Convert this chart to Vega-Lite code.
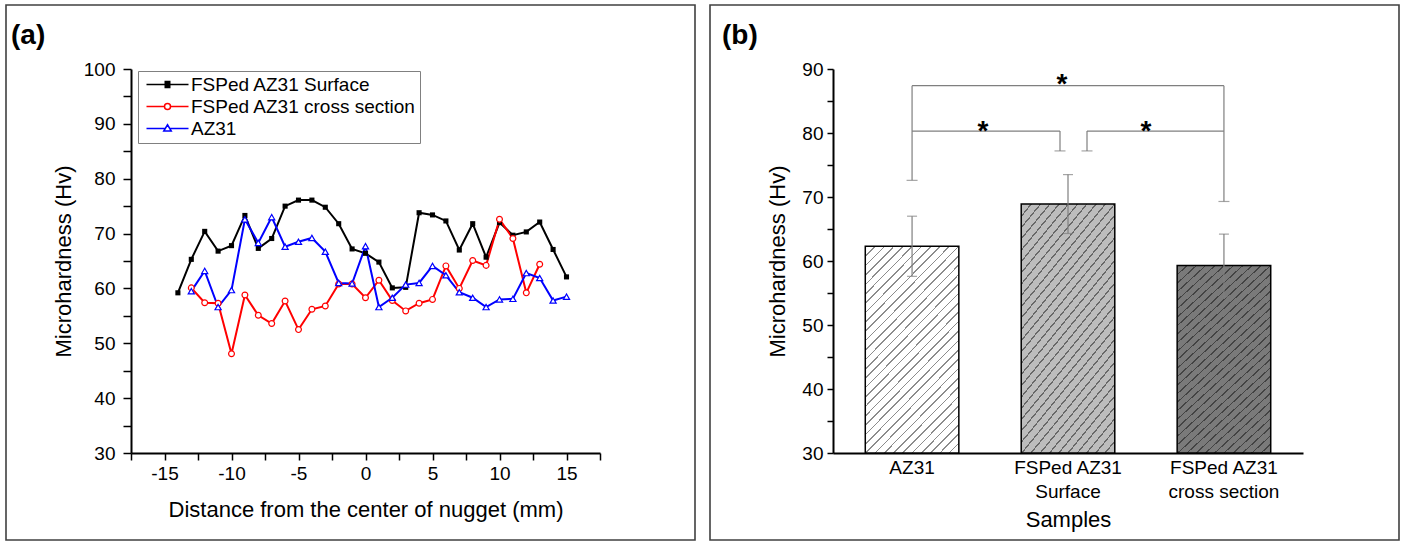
{
  "$schema": "https://vega.github.io/schema/vega-lite/v6.json",
  "padding": {"left": 5, "top": 4, "right": 8, "bottom": 2},
  "spacing": 13,
  "background": "white",
  "resolve": {"scale": {"color": "independent"}, "legend": {"color": "independent"}},
  "config": {
    "view": {"stroke": "#404040", "strokeWidth": 1.6},
    "font": "Liberation Sans",
    "axis": {"grid": false, "domainColor": "#000000", "domainWidth": 2, "tickColor": "#000000", "tickWidth": 1.5, "labelColor": "#000000", "titleColor": "#000000", "labelFontSize": 19, "titleFontSize": 22, "titleFontWeight": "normal", "labelFont": "Liberation Sans", "titleFont": "Liberation Sans"}
  },
  "hconcat": [
    {
      "width": 689,
      "height": 535,
      "title": {"text": "(a)", "anchor": "start", "frame": "group", "orient": "top", "offset": -67, "baseline": "alphabetic", "dx": 5, "fontSize": 28, "fontWeight": "bold", "font": "Liberation Sans", "color": "#000000"},
      "data": {"values": [
        {"series": "FSPed AZ31 Surface", "x": -14, "y": 59.2},
        {"series": "FSPed AZ31 Surface", "x": -13, "y": 65.3},
        {"series": "FSPed AZ31 Surface", "x": -12, "y": 70.4},
        {"series": "FSPed AZ31 Surface", "x": -11, "y": 66.8},
        {"series": "FSPed AZ31 Surface", "x": -10, "y": 67.8},
        {"series": "FSPed AZ31 Surface", "x": -9, "y": 73.3},
        {"series": "FSPed AZ31 Surface", "x": -8, "y": 67.3},
        {"series": "FSPed AZ31 Surface", "x": -7, "y": 69.1},
        {"series": "FSPed AZ31 Surface", "x": -6, "y": 75.0},
        {"series": "FSPed AZ31 Surface", "x": -5, "y": 76.1},
        {"series": "FSPed AZ31 Surface", "x": -4, "y": 76.1},
        {"series": "FSPed AZ31 Surface", "x": -3, "y": 74.8},
        {"series": "FSPed AZ31 Surface", "x": -2, "y": 71.8},
        {"series": "FSPed AZ31 Surface", "x": -1, "y": 67.2},
        {"series": "FSPed AZ31 Surface", "x": 0, "y": 66.4},
        {"series": "FSPed AZ31 Surface", "x": 1, "y": 64.8},
        {"series": "FSPed AZ31 Surface", "x": 2, "y": 60.1},
        {"series": "FSPed AZ31 Surface", "x": 3, "y": 60.2},
        {"series": "FSPed AZ31 Surface", "x": 4, "y": 73.8},
        {"series": "FSPed AZ31 Surface", "x": 5, "y": 73.4},
        {"series": "FSPed AZ31 Surface", "x": 6, "y": 72.3},
        {"series": "FSPed AZ31 Surface", "x": 7, "y": 67.0},
        {"series": "FSPed AZ31 Surface", "x": 8, "y": 71.8},
        {"series": "FSPed AZ31 Surface", "x": 9, "y": 65.7},
        {"series": "FSPed AZ31 Surface", "x": 10, "y": 72.0},
        {"series": "FSPed AZ31 Surface", "x": 11, "y": 69.7},
        {"series": "FSPed AZ31 Surface", "x": 12, "y": 70.3},
        {"series": "FSPed AZ31 Surface", "x": 13, "y": 72.1},
        {"series": "FSPed AZ31 Surface", "x": 14, "y": 67.1},
        {"series": "FSPed AZ31 Surface", "x": 15, "y": 62.1},
        {"series": "FSPed AZ31 cross section", "x": -13, "y": 60.1},
        {"series": "FSPed AZ31 cross section", "x": -12, "y": 57.4},
        {"series": "FSPed AZ31 cross section", "x": -11, "y": 57.3},
        {"series": "FSPed AZ31 cross section", "x": -10, "y": 48.1},
        {"series": "FSPed AZ31 cross section", "x": -9, "y": 58.8},
        {"series": "FSPed AZ31 cross section", "x": -8, "y": 55.1},
        {"series": "FSPed AZ31 cross section", "x": -7, "y": 53.6},
        {"series": "FSPed AZ31 cross section", "x": -6, "y": 57.7},
        {"series": "FSPed AZ31 cross section", "x": -5, "y": 52.5},
        {"series": "FSPed AZ31 cross section", "x": -4, "y": 56.2},
        {"series": "FSPed AZ31 cross section", "x": -3, "y": 56.8},
        {"series": "FSPed AZ31 cross section", "x": -2, "y": 60.8},
        {"series": "FSPed AZ31 cross section", "x": -1, "y": 60.8},
        {"series": "FSPed AZ31 cross section", "x": 0, "y": 58.3},
        {"series": "FSPed AZ31 cross section", "x": 1, "y": 61.5},
        {"series": "FSPed AZ31 cross section", "x": 2, "y": 57.8},
        {"series": "FSPed AZ31 cross section", "x": 3, "y": 55.9},
        {"series": "FSPed AZ31 cross section", "x": 4, "y": 57.3},
        {"series": "FSPed AZ31 cross section", "x": 5, "y": 58.0},
        {"series": "FSPed AZ31 cross section", "x": 6, "y": 64.1},
        {"series": "FSPed AZ31 cross section", "x": 7, "y": 60.0},
        {"series": "FSPed AZ31 cross section", "x": 8, "y": 65.1},
        {"series": "FSPed AZ31 cross section", "x": 9, "y": 64.2},
        {"series": "FSPed AZ31 cross section", "x": 10, "y": 72.6},
        {"series": "FSPed AZ31 cross section", "x": 11, "y": 69.1},
        {"series": "FSPed AZ31 cross section", "x": 12, "y": 59.2},
        {"series": "FSPed AZ31 cross section", "x": 13, "y": 64.4},
        {"series": "AZ31", "x": -13, "y": 59.5},
        {"series": "AZ31", "x": -12, "y": 63.2},
        {"series": "AZ31", "x": -11, "y": 56.6},
        {"series": "AZ31", "x": -10, "y": 59.7},
        {"series": "AZ31", "x": -9, "y": 72.6},
        {"series": "AZ31", "x": -8, "y": 68.3},
        {"series": "AZ31", "x": -7, "y": 73.0},
        {"series": "AZ31", "x": -6, "y": 67.6},
        {"series": "AZ31", "x": -5, "y": 68.5},
        {"series": "AZ31", "x": -4, "y": 69.2},
        {"series": "AZ31", "x": -3, "y": 66.7},
        {"series": "AZ31", "x": -2, "y": 61.0},
        {"series": "AZ31", "x": -1, "y": 60.9},
        {"series": "AZ31", "x": 0, "y": 67.7},
        {"series": "AZ31", "x": 1, "y": 56.6},
        {"series": "AZ31", "x": 2, "y": 58.3},
        {"series": "AZ31", "x": 3, "y": 60.7},
        {"series": "AZ31", "x": 4, "y": 61.0},
        {"series": "AZ31", "x": 5, "y": 64.1},
        {"series": "AZ31", "x": 6, "y": 62.4},
        {"series": "AZ31", "x": 7, "y": 59.3},
        {"series": "AZ31", "x": 8, "y": 58.3},
        {"series": "AZ31", "x": 9, "y": 56.6},
        {"series": "AZ31", "x": 10, "y": 58.0},
        {"series": "AZ31", "x": 11, "y": 58.1},
        {"series": "AZ31", "x": 12, "y": 62.8},
        {"series": "AZ31", "x": 13, "y": 61.9},
        {"series": "AZ31", "x": 14, "y": 57.8},
        {"series": "AZ31", "x": 15, "y": 58.5}
      ]},
      "encoding": {
        "x": {"field": "x", "type": "quantitative",
          "scale": {"domain": [-17.5, 17.5], "range": [125, 594], "nice": false, "zero": false},
          "axis": {"title": "Distance from the center of nugget (mm)", "offset": -87,
            "values": [-17.5, -15, -12.5, -10, -7.5, -5, -2.5, 0, 2.5, 5, 7.5, 10, 12.5, 15, 17.5],
            "labelExpr": "datum.value % 5 == 0 ? '' + datum.value : ''",
            "tickSize": 7,
            "labelPadding": 4, "titlePadding": 16, "labelFlush": false, "labelOverlap": false}},
        "y": {"field": "y", "type": "quantitative",
          "scale": {"domain": [30, 100], "range": [448, 64], "nice": false, "zero": false},
          "axis": {"title": "Microhardness (Hv)", "offset": -125,
            "values": [30, 35, 40, 45, 50, 55, 60, 65, 70, 75, 80, 85, 90, 95, 100],
            "labelExpr": "datum.value % 10 == 0 ? datum.label : ''",
            "tickSize": 8, "labelPadding": 8, "titlePadding": 8, "labelOverlap": false}}
      },
      "layer": [
        {
          "mark": {"type": "line", "strokeWidth": 2},
          "encoding": {
            "color": {"field": "series", "type": "nominal",
              "scale": {"domain": ["FSPed AZ31 Surface", "FSPed AZ31 cross section", "AZ31"], "range": ["#000000", "#ff0000", "#0000ff"]},
              "legend": {"orient": "none", "legendX": 132, "legendY": 66, "title": null,
                "strokeColor": "#808080", "fillColor": "#ffffff", "padding": 4, "rowPadding": 2,
                "labelFontSize": 19, "labelFont": "Liberation Sans", "labelColor": "#000000", "labelOffset": 30, "labelLimit": 400,
                "symbolSize": 100, "symbolStrokeWidth": 1.5, "symbolFillColor": "#ffffff",
                "encode": {"symbols": {"update": {
                  "shape": {"signal": "datum.value === 'FSPed AZ31 Surface' ? 'M-1,0H7.4M2.6,-0.6H3.8M2.6,-0.3H3.8M2.6,0H3.8M2.6,0.3H3.8M2.6,0.6H3.8' : datum.value === 'AZ31' ? 'M-1,0H2.75M3.65,0H7.4M3.2,-0.75L3.95,0.5H2.45Z' : 'M-1,0H2.6M3.8,0H7.4M2.6,0A0.6,0.6,0,1,0,3.8,0A0.6,0.6,0,1,0,2.6,0Z'"},
                  "strokeWidth": {"value": 1.5}
                }}}}}
          }
        },
        {
          "transform": [{"filter": "datum.series === 'FSPed AZ31 Surface'"}],
          "mark": {"type": "point", "shape": "square", "size": 26, "filled": true, "color": "#000000", "opacity": 1}
        },
        {
          "transform": [{"filter": "datum.series === 'FSPed AZ31 cross section'"}],
          "mark": {"type": "point", "shape": "circle", "size": 34, "fill": "#ffffff", "stroke": "#ff0000", "strokeWidth": 1.2, "opacity": 1}
        },
        {
          "transform": [{"filter": "datum.series === 'AZ31'"}],
          "mark": {"type": "point", "shape": "triangle-up", "size": 38, "fill": "#ffffff", "stroke": "#0000ff", "strokeWidth": 1.2, "opacity": 1}
        }
      ]
    },
    {
      "width": 689,
      "height": 535,
      "title": {"text": "(b)", "anchor": "start", "frame": "group", "orient": "top", "offset": -67, "baseline": "alphabetic", "dx": 12, "fontSize": 28, "fontWeight": "bold", "font": "Liberation Sans", "color": "#000000"},
      "data": {"values": [
        {"sample": "AZ31", "mean": 62.3, "lo": 57.6, "hi": 67.0},
        {"sample": "FSPed AZ31 Surface", "mean": 68.9, "lo": 64.3, "hi": 73.5},
        {"sample": "FSPed AZ31 cross section", "mean": 59.3, "lo": 54.4, "hi": 64.2}
      ]},
      "layer": [
        {
          "mark": {"type": "bar", "strokeWidth": 0},
          "encoding": {
            "x": {"field": "sample", "type": "nominal",
              "scale": {"domain": ["AZ31", "FSPed AZ31 Surface", "FSPed AZ31 cross section"], "range": [123, 593], "paddingInner": 0.4, "paddingOuter": 0.207},
              "axis": {"title": "Samples", "offset": -87, "labelAngle": 0, "ticks": false, "labelPadding": 5, "labelLineHeight": 24,
                "labelExpr": "datum.label == 'AZ31' ? 'AZ31' : ['FSPed AZ31', slice(datum.label, 11)]",
                "titlePadding": 8, "labelOverlap": false}},
            "y": {"field": "mean", "type": "quantitative",
              "scale": {"domain": [30, 90], "range": [448, 64], "nice": false, "zero": false},
              "axis": {"title": "Microhardness (Hv)", "offset": -123,
                "values": [30, 35, 40, 45, 50, 55, 60, 65, 70, 75, 80, 85, 90],
                "labelExpr": "datum.value % 10 == 0 ? datum.label : ''",
                "tickSize": 6,
                "labelPadding": 4, "titlePadding": 12, "labelOverlap": false}},
            "y2": {"datum": 30},
            "color": {"field": "sample", "type": "nominal", "scale": {"domain": ["AZ31", "FSPed AZ31 Surface", "FSPed AZ31 cross section"], "range": ["#ffffff", "#bdbdbd", "#7a7a7a"]}, "legend": null}
          }
        },
        {
          "mark": {"type": "bar", "stroke": "#000000", "strokeWidth": 1.5,
            "fill": {"gradient": "linear", "x1": 0, "y1": 0, "x2": 0.55, "y2": 1.2, "stops": [
              {"offset": 0, "color": "rgba(0,0,0,0.45)"}, {"offset": 0.0055, "color": "rgba(0,0,0,0.45)"}, {"offset": 0.0055, "color": "rgba(0,0,0,0)"}, {"offset": 0.03125, "color": "rgba(0,0,0,0)"},
              {"offset": 0.03125, "color": "rgba(0,0,0,0.45)"}, {"offset": 0.03675, "color": "rgba(0,0,0,0.45)"}, {"offset": 0.03675, "color": "rgba(0,0,0,0)"}, {"offset": 0.0625, "color": "rgba(0,0,0,0)"},
              {"offset": 0.0625, "color": "rgba(0,0,0,0.45)"}, {"offset": 0.068, "color": "rgba(0,0,0,0.45)"}, {"offset": 0.068, "color": "rgba(0,0,0,0)"}, {"offset": 0.09375, "color": "rgba(0,0,0,0)"},
              {"offset": 0.09375, "color": "rgba(0,0,0,0.45)"}, {"offset": 0.09925, "color": "rgba(0,0,0,0.45)"}, {"offset": 0.09925, "color": "rgba(0,0,0,0)"}, {"offset": 0.125, "color": "rgba(0,0,0,0)"},
              {"offset": 0.125, "color": "rgba(0,0,0,0.45)"}, {"offset": 0.1305, "color": "rgba(0,0,0,0.45)"}, {"offset": 0.1305, "color": "rgba(0,0,0,0)"}, {"offset": 0.15625, "color": "rgba(0,0,0,0)"},
              {"offset": 0.15625, "color": "rgba(0,0,0,0.45)"}, {"offset": 0.16175, "color": "rgba(0,0,0,0.45)"}, {"offset": 0.16175, "color": "rgba(0,0,0,0)"}, {"offset": 0.1875, "color": "rgba(0,0,0,0)"},
              {"offset": 0.1875, "color": "rgba(0,0,0,0.45)"}, {"offset": 0.193, "color": "rgba(0,0,0,0.45)"}, {"offset": 0.193, "color": "rgba(0,0,0,0)"}, {"offset": 0.21875, "color": "rgba(0,0,0,0)"},
              {"offset": 0.21875, "color": "rgba(0,0,0,0.45)"}, {"offset": 0.22425, "color": "rgba(0,0,0,0.45)"}, {"offset": 0.22425, "color": "rgba(0,0,0,0)"}, {"offset": 0.25, "color": "rgba(0,0,0,0)"},
              {"offset": 0.25, "color": "rgba(0,0,0,0.45)"}, {"offset": 0.2555, "color": "rgba(0,0,0,0.45)"}, {"offset": 0.2555, "color": "rgba(0,0,0,0)"}, {"offset": 0.28125, "color": "rgba(0,0,0,0)"},
              {"offset": 0.28125, "color": "rgba(0,0,0,0.45)"}, {"offset": 0.28675, "color": "rgba(0,0,0,0.45)"}, {"offset": 0.28675, "color": "rgba(0,0,0,0)"}, {"offset": 0.3125, "color": "rgba(0,0,0,0)"},
              {"offset": 0.3125, "color": "rgba(0,0,0,0.45)"}, {"offset": 0.318, "color": "rgba(0,0,0,0.45)"}, {"offset": 0.318, "color": "rgba(0,0,0,0)"}, {"offset": 0.34375, "color": "rgba(0,0,0,0)"},
              {"offset": 0.34375, "color": "rgba(0,0,0,0.45)"}, {"offset": 0.34925, "color": "rgba(0,0,0,0.45)"}, {"offset": 0.34925, "color": "rgba(0,0,0,0)"}, {"offset": 0.375, "color": "rgba(0,0,0,0)"},
              {"offset": 0.375, "color": "rgba(0,0,0,0.45)"}, {"offset": 0.3805, "color": "rgba(0,0,0,0.45)"}, {"offset": 0.3805, "color": "rgba(0,0,0,0)"}, {"offset": 0.40625, "color": "rgba(0,0,0,0)"},
              {"offset": 0.40625, "color": "rgba(0,0,0,0.45)"}, {"offset": 0.41175, "color": "rgba(0,0,0,0.45)"}, {"offset": 0.41175, "color": "rgba(0,0,0,0)"}, {"offset": 0.4375, "color": "rgba(0,0,0,0)"},
              {"offset": 0.4375, "color": "rgba(0,0,0,0.45)"}, {"offset": 0.443, "color": "rgba(0,0,0,0.45)"}, {"offset": 0.443, "color": "rgba(0,0,0,0)"}, {"offset": 0.46875, "color": "rgba(0,0,0,0)"},
              {"offset": 0.46875, "color": "rgba(0,0,0,0.45)"}, {"offset": 0.47425, "color": "rgba(0,0,0,0.45)"}, {"offset": 0.47425, "color": "rgba(0,0,0,0)"}, {"offset": 0.5, "color": "rgba(0,0,0,0)"},
              {"offset": 0.5, "color": "rgba(0,0,0,0.45)"}, {"offset": 0.5055, "color": "rgba(0,0,0,0.45)"}, {"offset": 0.5055, "color": "rgba(0,0,0,0)"}, {"offset": 0.53125, "color": "rgba(0,0,0,0)"},
              {"offset": 0.53125, "color": "rgba(0,0,0,0.45)"}, {"offset": 0.53675, "color": "rgba(0,0,0,0.45)"}, {"offset": 0.53675, "color": "rgba(0,0,0,0)"}, {"offset": 0.5625, "color": "rgba(0,0,0,0)"},
              {"offset": 0.5625, "color": "rgba(0,0,0,0.45)"}, {"offset": 0.568, "color": "rgba(0,0,0,0.45)"}, {"offset": 0.568, "color": "rgba(0,0,0,0)"}, {"offset": 0.59375, "color": "rgba(0,0,0,0)"},
              {"offset": 0.59375, "color": "rgba(0,0,0,0.45)"}, {"offset": 0.59925, "color": "rgba(0,0,0,0.45)"}, {"offset": 0.59925, "color": "rgba(0,0,0,0)"}, {"offset": 0.625, "color": "rgba(0,0,0,0)"},
              {"offset": 0.625, "color": "rgba(0,0,0,0.45)"}, {"offset": 0.6305, "color": "rgba(0,0,0,0.45)"}, {"offset": 0.6305, "color": "rgba(0,0,0,0)"}, {"offset": 0.65625, "color": "rgba(0,0,0,0)"},
              {"offset": 0.65625, "color": "rgba(0,0,0,0.45)"}, {"offset": 0.66175, "color": "rgba(0,0,0,0.45)"}, {"offset": 0.66175, "color": "rgba(0,0,0,0)"}, {"offset": 0.6875, "color": "rgba(0,0,0,0)"},
              {"offset": 0.6875, "color": "rgba(0,0,0,0.45)"}, {"offset": 0.693, "color": "rgba(0,0,0,0.45)"}, {"offset": 0.693, "color": "rgba(0,0,0,0)"}, {"offset": 0.71875, "color": "rgba(0,0,0,0)"},
              {"offset": 0.71875, "color": "rgba(0,0,0,0.45)"}, {"offset": 0.72425, "color": "rgba(0,0,0,0.45)"}, {"offset": 0.72425, "color": "rgba(0,0,0,0)"}, {"offset": 0.75, "color": "rgba(0,0,0,0)"},
              {"offset": 0.75, "color": "rgba(0,0,0,0.45)"}, {"offset": 0.7555, "color": "rgba(0,0,0,0.45)"}, {"offset": 0.7555, "color": "rgba(0,0,0,0)"}, {"offset": 0.78125, "color": "rgba(0,0,0,0)"},
              {"offset": 0.78125, "color": "rgba(0,0,0,0.45)"}, {"offset": 0.78675, "color": "rgba(0,0,0,0.45)"}, {"offset": 0.78675, "color": "rgba(0,0,0,0)"}, {"offset": 0.8125, "color": "rgba(0,0,0,0)"},
              {"offset": 0.8125, "color": "rgba(0,0,0,0.45)"}, {"offset": 0.818, "color": "rgba(0,0,0,0.45)"}, {"offset": 0.818, "color": "rgba(0,0,0,0)"}, {"offset": 0.84375, "color": "rgba(0,0,0,0)"},
              {"offset": 0.84375, "color": "rgba(0,0,0,0.45)"}, {"offset": 0.84925, "color": "rgba(0,0,0,0.45)"}, {"offset": 0.84925, "color": "rgba(0,0,0,0)"}, {"offset": 0.875, "color": "rgba(0,0,0,0)"},
              {"offset": 0.875, "color": "rgba(0,0,0,0.45)"}, {"offset": 0.8805, "color": "rgba(0,0,0,0.45)"}, {"offset": 0.8805, "color": "rgba(0,0,0,0)"}, {"offset": 0.90625, "color": "rgba(0,0,0,0)"},
              {"offset": 0.90625, "color": "rgba(0,0,0,0.45)"}, {"offset": 0.91175, "color": "rgba(0,0,0,0.45)"}, {"offset": 0.91175, "color": "rgba(0,0,0,0)"}, {"offset": 0.9375, "color": "rgba(0,0,0,0)"},
              {"offset": 0.9375, "color": "rgba(0,0,0,0.45)"}, {"offset": 0.943, "color": "rgba(0,0,0,0.45)"}, {"offset": 0.943, "color": "rgba(0,0,0,0)"}, {"offset": 0.96875, "color": "rgba(0,0,0,0)"},
              {"offset": 0.96875, "color": "rgba(0,0,0,0.45)"}, {"offset": 0.97425, "color": "rgba(0,0,0,0.45)"}, {"offset": 0.97425, "color": "rgba(0,0,0,0)"}, {"offset": 1, "color": "rgba(0,0,0,0)"}
            ]}},
          "encoding": {
            "x": {"field": "sample", "type": "nominal"},
            "y": {"field": "mean", "type": "quantitative"},
            "y2": {"datum": 30}
          }
        },
        {
          "mark": {"type": "rule", "color": "#7f7f7f", "strokeWidth": 1.2},
          "encoding": {
            "x": {"field": "sample", "type": "nominal"},
            "y": {"field": "lo", "type": "quantitative"},
            "y2": {"field": "hi"}
          }
        },
        {
          "mark": {"type": "tick", "orient": "horizontal", "size": 10, "thickness": 1.2, "color": "#7f7f7f"},
          "encoding": {
            "x": {"field": "sample", "type": "nominal"},
            "y": {"field": "lo", "type": "quantitative"}
          }
        },
        {
          "mark": {"type": "tick", "orient": "horizontal", "size": 10, "thickness": 1.2, "color": "#7f7f7f"},
          "encoding": {
            "x": {"field": "sample", "type": "nominal"},
            "y": {"field": "hi", "type": "quantitative"}
          }
        },
        {
          "data": {"values": [{"sample": "AZ31", "sample2": "FSPed AZ31 cross section", "v": 87.4}]},
          "mark": {"type": "rule", "color": "#7f7f7f", "strokeWidth": 1.2},
          "encoding": {
            "x": {"field": "sample", "type": "nominal", "bandPosition": 0.5},
            "x2": {"field": "sample2"},
            "y": {"field": "v", "type": "quantitative"}
          }
        },
        {
          "data": {"values": [{"sample": "AZ31", "v": 87.4, "v2": 72.6}, {"sample": "FSPed AZ31 cross section", "v": 87.4, "v2": 69.3}]},
          "mark": {"type": "rule", "color": "#7f7f7f", "strokeWidth": 1.2},
          "encoding": {
            "x": {"field": "sample", "type": "nominal"},
            "y": {"field": "v", "type": "quantitative"},
            "y2": {"field": "v2"}
          }
        },
        {
          "data": {"values": [{"sample": "AZ31", "v2": 72.6}, {"sample": "FSPed AZ31 cross section", "v2": 69.3}]},
          "mark": {"type": "tick", "orient": "horizontal", "size": 11, "thickness": 1.2, "color": "#7f7f7f"},
          "encoding": {
            "x": {"field": "sample", "type": "nominal"},
            "y": {"field": "v2", "type": "quantitative"}
          }
        },
        {
          "data": {"values": [{"sample": "AZ31", "sample2": "FSPed AZ31 Surface", "v": 80.3}]},
          "mark": {"type": "rule", "color": "#7f7f7f", "strokeWidth": 1.2, "x2Offset": -8},
          "encoding": {
            "x": {"field": "sample", "type": "nominal", "bandPosition": 0.5},
            "x2": {"field": "sample2"},
            "y": {"field": "v", "type": "quantitative"}
          }
        },
        {
          "data": {"values": [{"sample": "FSPed AZ31 Surface", "sample2": "FSPed AZ31 cross section", "v": 80.3}]},
          "mark": {"type": "rule", "color": "#7f7f7f", "strokeWidth": 1.2, "xOffset": 19},
          "encoding": {
            "x": {"field": "sample", "type": "nominal", "bandPosition": 0.5},
            "x2": {"field": "sample2"},
            "y": {"field": "v", "type": "quantitative"}
          }
        },
        {
          "data": {"values": [{"sample": "FSPed AZ31 Surface", "v": 80.3, "v2": 77.2}]},
          "mark": {"type": "rule", "color": "#7f7f7f", "strokeWidth": 1.2, "xOffset": -8},
          "encoding": {
            "x": {"field": "sample", "type": "nominal"},
            "y": {"field": "v", "type": "quantitative"},
            "y2": {"field": "v2"}
          }
        },
        {
          "data": {"values": [{"sample": "FSPed AZ31 Surface", "v": 80.3, "v2": 77.2}]},
          "mark": {"type": "rule", "color": "#7f7f7f", "strokeWidth": 1.2, "xOffset": 19},
          "encoding": {
            "x": {"field": "sample", "type": "nominal"},
            "y": {"field": "v", "type": "quantitative"},
            "y2": {"field": "v2"}
          }
        },
        {
          "data": {"values": [{"sample": "FSPed AZ31 Surface", "v2": 77.2}]},
          "mark": {"type": "tick", "orient": "horizontal", "size": 11, "thickness": 1.2, "color": "#7f7f7f", "xOffset": -8},
          "encoding": {
            "x": {"field": "sample", "type": "nominal"},
            "y": {"field": "v2", "type": "quantitative"}
          }
        },
        {
          "data": {"values": [{"sample": "FSPed AZ31 Surface", "v2": 77.2}]},
          "mark": {"type": "tick", "orient": "horizontal", "size": 11, "thickness": 1.2, "color": "#7f7f7f", "xOffset": 19},
          "encoding": {
            "x": {"field": "sample", "type": "nominal"},
            "y": {"field": "v2", "type": "quantitative"}
          }
        },
        {
          "data": {"values": [{"sample": "FSPed AZ31 Surface", "v": 87.4, "label": "*"}]},
          "mark": {"type": "text", "fontSize": 28, "fontWeight": "bold", "baseline": "alphabetic", "dy": 7, "dx": -6, "color": "#000000"},
          "encoding": {
            "x": {"field": "sample", "type": "nominal"},
            "y": {"field": "v", "type": "quantitative"},
            "text": {"field": "label"}
          }
        },
        {
          "data": {"values": [{"sample": "FSPed AZ31 Surface", "v": 80.3, "label": "*"}]},
          "mark": {"type": "text", "fontSize": 28, "fontWeight": "bold", "baseline": "alphabetic", "dy": 9, "dx": -85, "color": "#000000"},
          "encoding": {
            "x": {"field": "sample", "type": "nominal"},
            "y": {"field": "v", "type": "quantitative"},
            "text": {"field": "label"}
          }
        },
        {
          "data": {"values": [{"sample": "FSPed AZ31 Surface", "v": 80.3, "label": "*"}]},
          "mark": {"type": "text", "fontSize": 28, "fontWeight": "bold", "baseline": "alphabetic", "dy": 9, "dx": 78, "color": "#000000"},
          "encoding": {
            "x": {"field": "sample", "type": "nominal"},
            "y": {"field": "v", "type": "quantitative"},
            "text": {"field": "label"}
          }
        }
      ]
    }
  ]
}
